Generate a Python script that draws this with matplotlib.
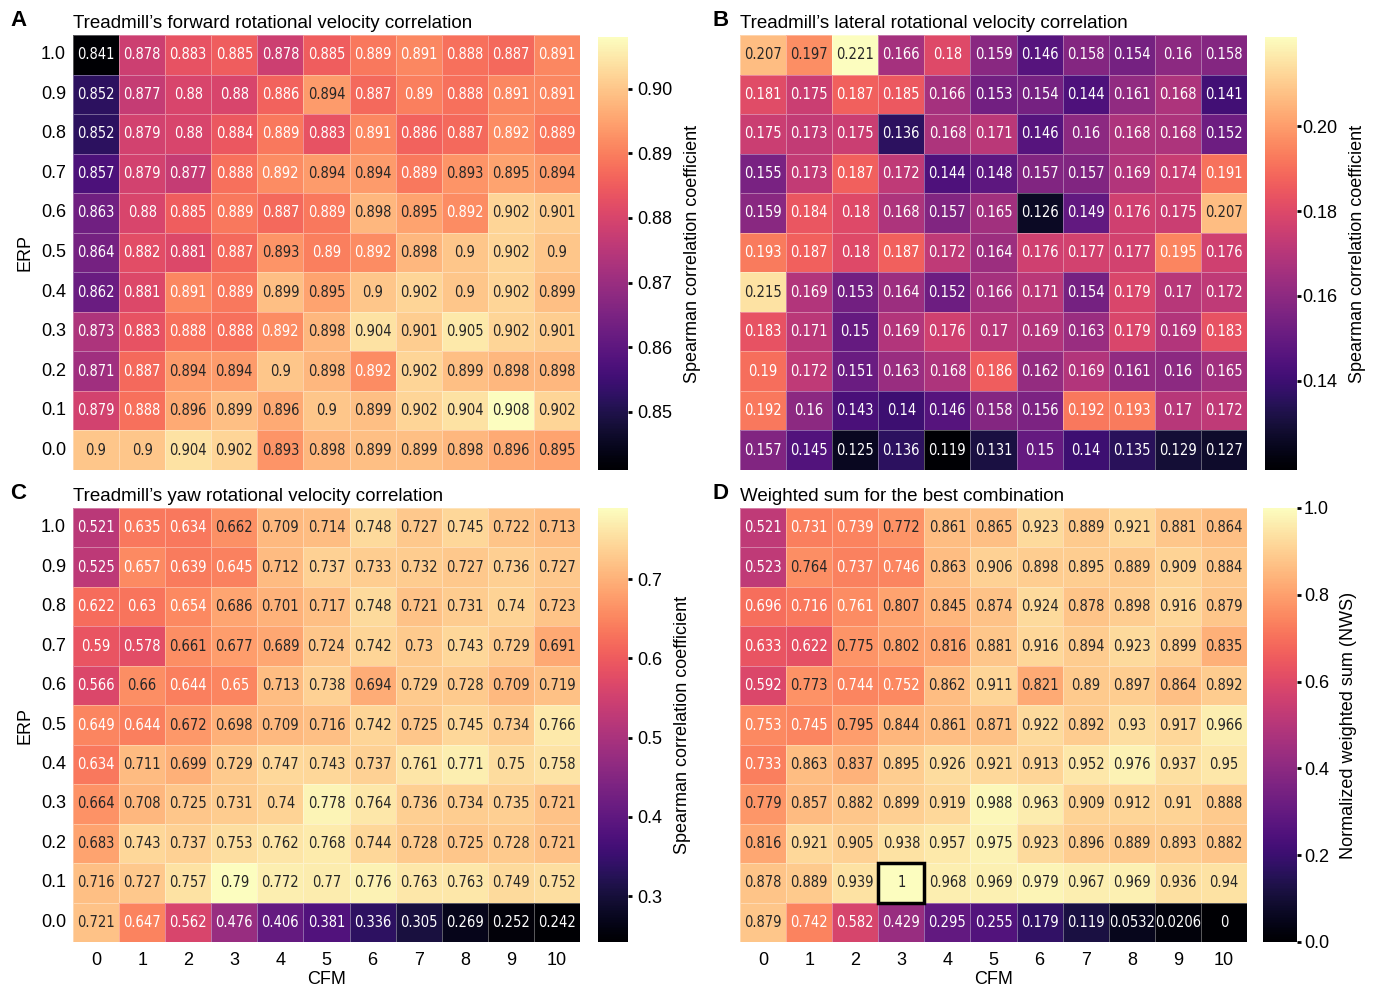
import numpy as np
import matplotlib
matplotlib.use("Agg")
import matplotlib.pyplot as plt
import seaborn as sns
from matplotlib.patches import Rectangle

erp_labels = ["1.0", "0.9", "0.8", "0.7", "0.6", "0.5", "0.4", "0.3", "0.2", "0.1", "0.0"]
cfm_labels = [str(i) for i in range(11)]

forward = [
    [0.841, 0.878, 0.883, 0.885, 0.878, 0.885, 0.889, 0.891, 0.888, 0.887, 0.891],
    [0.852, 0.877, 0.88, 0.88, 0.886, 0.894, 0.887, 0.89, 0.888, 0.891, 0.891],
    [0.852, 0.879, 0.88, 0.884, 0.889, 0.883, 0.891, 0.886, 0.887, 0.892, 0.889],
    [0.857, 0.879, 0.877, 0.888, 0.892, 0.894, 0.894, 0.889, 0.893, 0.895, 0.894],
    [0.863, 0.88, 0.885, 0.889, 0.887, 0.889, 0.898, 0.895, 0.892, 0.902, 0.901],
    [0.864, 0.882, 0.881, 0.887, 0.893, 0.89, 0.892, 0.898, 0.9, 0.902, 0.9],
    [0.862, 0.881, 0.891, 0.889, 0.899, 0.895, 0.9, 0.902, 0.9, 0.902, 0.899],
    [0.873, 0.883, 0.888, 0.888, 0.892, 0.898, 0.904, 0.901, 0.905, 0.902, 0.901],
    [0.871, 0.887, 0.894, 0.894, 0.9, 0.898, 0.892, 0.902, 0.899, 0.898, 0.898],
    [0.879, 0.888, 0.896, 0.899, 0.896, 0.9, 0.899, 0.902, 0.904, 0.908, 0.902],
    [0.9, 0.9, 0.904, 0.902, 0.893, 0.898, 0.899, 0.899, 0.898, 0.896, 0.895],
]

lateral = [
    [0.207, 0.197, 0.221, 0.166, 0.18, 0.159, 0.146, 0.158, 0.154, 0.16, 0.158],
    [0.181, 0.175, 0.187, 0.185, 0.166, 0.153, 0.154, 0.144, 0.161, 0.168, 0.141],
    [0.175, 0.173, 0.175, 0.136, 0.168, 0.171, 0.146, 0.16, 0.168, 0.168, 0.152],
    [0.155, 0.173, 0.187, 0.172, 0.144, 0.148, 0.157, 0.157, 0.169, 0.174, 0.191],
    [0.159, 0.184, 0.18, 0.168, 0.157, 0.165, 0.126, 0.149, 0.176, 0.175, 0.207],
    [0.193, 0.187, 0.18, 0.187, 0.172, 0.164, 0.176, 0.177, 0.177, 0.195, 0.176],
    [0.215, 0.169, 0.153, 0.164, 0.152, 0.166, 0.171, 0.154, 0.179, 0.17, 0.172],
    [0.183, 0.171, 0.15, 0.169, 0.176, 0.17, 0.169, 0.163, 0.179, 0.169, 0.183],
    [0.19, 0.172, 0.151, 0.163, 0.168, 0.186, 0.162, 0.169, 0.161, 0.16, 0.165],
    [0.192, 0.16, 0.143, 0.14, 0.146, 0.158, 0.156, 0.192, 0.193, 0.17, 0.172],
    [0.157, 0.145, 0.125, 0.136, 0.119, 0.131, 0.15, 0.14, 0.135, 0.129, 0.127],
]

yaw = [
    [0.521, 0.635, 0.634, 0.662, 0.709, 0.714, 0.748, 0.727, 0.745, 0.722, 0.713],
    [0.525, 0.657, 0.639, 0.645, 0.712, 0.737, 0.733, 0.732, 0.727, 0.736, 0.727],
    [0.622, 0.63, 0.654, 0.686, 0.701, 0.717, 0.748, 0.721, 0.731, 0.74, 0.723],
    [0.59, 0.578, 0.661, 0.677, 0.689, 0.724, 0.742, 0.73, 0.743, 0.729, 0.691],
    [0.566, 0.66, 0.644, 0.65, 0.713, 0.738, 0.694, 0.729, 0.728, 0.709, 0.719],
    [0.649, 0.644, 0.672, 0.698, 0.709, 0.716, 0.742, 0.725, 0.745, 0.734, 0.766],
    [0.634, 0.711, 0.699, 0.729, 0.747, 0.743, 0.737, 0.761, 0.771, 0.75, 0.758],
    [0.664, 0.708, 0.725, 0.731, 0.74, 0.778, 0.764, 0.736, 0.734, 0.735, 0.721],
    [0.683, 0.743, 0.737, 0.753, 0.762, 0.768, 0.744, 0.728, 0.725, 0.728, 0.721],
    [0.716, 0.727, 0.757, 0.79, 0.772, 0.77, 0.776, 0.763, 0.763, 0.749, 0.752],
    [0.721, 0.647, 0.562, 0.476, 0.406, 0.381, 0.336, 0.305, 0.269, 0.252, 0.242],
]

nws = [
    [0.521, 0.731, 0.739, 0.772, 0.861, 0.865, 0.923, 0.889, 0.921, 0.881, 0.864],
    [0.523, 0.764, 0.737, 0.746, 0.863, 0.906, 0.898, 0.895, 0.889, 0.909, 0.884],
    [0.696, 0.716, 0.761, 0.807, 0.845, 0.874, 0.924, 0.878, 0.898, 0.916, 0.879],
    [0.633, 0.622, 0.775, 0.802, 0.816, 0.881, 0.916, 0.894, 0.923, 0.899, 0.835],
    [0.592, 0.773, 0.744, 0.752, 0.862, 0.911, 0.821, 0.89, 0.897, 0.864, 0.892],
    [0.753, 0.745, 0.795, 0.844, 0.861, 0.871, 0.922, 0.892, 0.93, 0.917, 0.966],
    [0.733, 0.863, 0.837, 0.895, 0.926, 0.921, 0.913, 0.952, 0.976, 0.937, 0.95],
    [0.779, 0.857, 0.882, 0.899, 0.919, 0.988, 0.963, 0.909, 0.912, 0.91, 0.888],
    [0.816, 0.921, 0.905, 0.938, 0.957, 0.975, 0.923, 0.896, 0.889, 0.893, 0.882],
    [0.878, 0.889, 0.939, 1.0, 0.968, 0.969, 0.979, 0.967, 0.969, 0.936, 0.94],
    [0.879, 0.742, 0.582, 0.429, 0.295, 0.255, 0.179, 0.119, 0.0532, 0.0206, 0.0],
]

best_erp = "0.1"
best_cfm = "3"

titles = ["Treadmill\u2019s forward rotational velocity correlation",
          "Treadmill\u2019s lateral rotational velocity correlation",
          "Treadmill\u2019s yaw rotational velocity correlation",
          "Weighted sum for the best combination"]
letters = ["A", "B", "C", "D"]
cbar_labels = ["Spearman correlation coefficient"] * 3 + ["Normalized weighted sum (NWS)"]
cbar_ticks = [[0.85, 0.86, 0.87, 0.88, 0.89, 0.90],
              [0.14, 0.16, 0.18, 0.20],
              [0.3, 0.4, 0.5, 0.6, 0.7],
              [0.0, 0.2, 0.4, 0.6, 0.8, 1.0]]
cbar_fmt = ["%.2f", "%.2f", "%.1f", "%.1f"]

plt.rcParams['font.family'] = ['Liberation Sans', 'DejaVu Sans']

W, H = 1378, 988
fig = plt.figure(figsize=(W / 100, H / 100), dpi=100)

def fx(px):
    return px / W

def fy(py):
    return 1 - py / H

panels = [
    dict(hm=(73, 35, 580, 470), cb=(598, 37, 628, 470), let=(10, 20), cpad=4),
    dict(hm=(740, 35, 1247, 470), cb=(1265, 37, 1297, 470), let=(713, 20), cpad=1),
    dict(hm=(73, 508, 580, 942), cb=(598, 508, 628, 942), let=(10, 493), cpad=4),
    dict(hm=(740, 508, 1247, 942), cb=(1263, 508, 1297, 942), let=(713, 493), cpad=2),
]
datas = [forward, lateral, yaw, nws]

for i, (p, d) in enumerate(zip(panels, datas)):
    x0, y0, x1, y1 = p["hm"]
    ax = fig.add_axes([fx(x0), fy(y1), fx(x1 - x0), (y1 - y0) / H])
    c0, cy0, c1, cy1 = p["cb"]
    cax = fig.add_axes([fx(c0), fy(cy1), fx(c1 - c0), (cy1 - cy0) / H])
    arr = np.array(d)
    sns.heatmap(arr, ax=ax, cbar_ax=cax, cmap="magma", annot=True, fmt=".3g",
                annot_kws=dict(fontsize=10.5, family="DejaVu Sans", fontstretch="condensed"),
                linewidths=0.4, linecolor=(1, 1, 1, 0.35),
                xticklabels=cfm_labels, yticklabels=erp_labels,
                vmin=arr.min(), vmax=arr.max())
    ax.tick_params(length=0, labelsize=13)
    ax.tick_params(axis='y', pad=5, rotation=0)
    ax.tick_params(axis='x', pad=7)
    if i in (0, 2):
        ax.set_ylabel("ERP", fontsize=13, labelpad=5)
    else:
        ax.set_yticklabels([])
        ax.set_ylabel("")
    if i in (2, 3):
        ax.set_xlabel("CFM", fontsize=13, labelpad=2)
    else:
        ax.set_xticklabels([])
        ax.set_xlabel("")
    ax.set_title(titles[i], loc="left", fontsize=13.5, pad=5)
    fig.text(fx(p["let"][0]), fy(p["let"][1]), letters[i], fontsize=16,
             fontweight="bold", va="center", ha="left")
    cax.set_yticks(cbar_ticks[i])
    cax.yaxis.set_major_formatter(matplotlib.ticker.FormatStrFormatter(cbar_fmt[i]))
    cax.tick_params(labelsize=13, length=3, width=2, pad=p["cpad"])
    cax.set_ylabel(cbar_labels[i], fontsize=13, labelpad=8)
    for s in cax.spines.values():
        s.set_visible(False)
    if i == 3:
        r = erp_labels.index(best_erp)
        c = cfm_labels.index(best_cfm)
        ax.add_patch(Rectangle((c, r), 1, 1, fill=False, edgecolor="black",
                               lw=2.5, clip_on=False, zorder=5))

fig.savefig("out.png", dpi=100)
